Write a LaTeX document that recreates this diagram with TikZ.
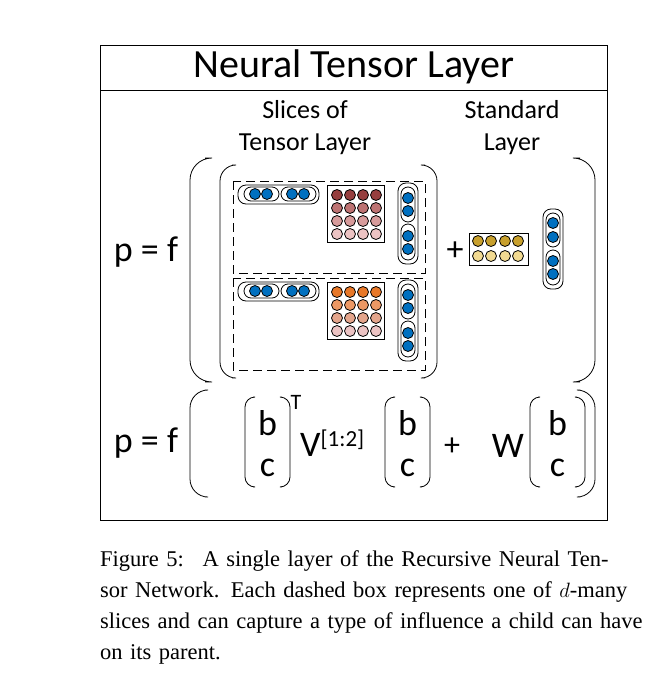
\documentclass[tikz,border=0pt]{standalone}
\usepackage{fontspec}
\setmainfont{Carlito}
\newfontfamily\capfont{Liberation Serif}
\definecolor{ntblue}{RGB}{0,112,192}
\definecolor{redA}{RGB}{150,62,62}
\definecolor{redB}{RGB}{190,115,115}
\definecolor{redC}{RGB}{215,155,155}
\definecolor{redD}{RGB}{236,195,195}
\definecolor{orA}{RGB}{232,120,40}
\definecolor{orB}{RGB}{236,152,100}
\definecolor{orC}{RGB}{228,165,140}
\definecolor{yelA}{RGB}{200,160,45}
\definecolor{yelB}{RGB}{242,218,145}
\tikzset{
  dot/.style={circle, draw=black, thick, inner sep=0pt, minimum size=#1},
  dot/.default=11pt,
  capsule/.style={draw=black, thick, rounded corners=8pt},
  slice/.style={draw=black, thick, dash pattern=on 9pt off 5pt},
  paren/.style={draw=black, thick, rounded corners=12pt},
  big/.style={font=\fontsize{36}{38}\selectfont},
}
\begin{document}
\begin{tikzpicture}[x=1pt, y=-1pt]
  \useasboundingbox (0,0) rectangle (669,688);

  % Frame and title
  \draw[thick] (100,45) rectangle (607,520);
  \draw[thick] (100,90) -- (607,90);
  \node[font=\fontsize{40}{42}\selectfont] (title) at (354,67) {Neural Tensor Layer};
  \node[font=\fontsize{26}{32}\selectfont, align=center] (slicelbl) at (305,128) {Slices of\\Tensor Layer};
  \node[font=\fontsize{26}{32}\selectfont, align=center] (stdlbl) at (512,128) {Standard\\Layer};

  % Left hand sides
  \node[big] (pf1) at (146,252) {p = f};
  \node[big] (pf2) at (146,443) {p = f};

  % Big parentheses, upper row
  \draw[paren, rounded corners=22pt] (205,158) -- (190,158) -- (190,382) -- (205,382);
  \draw[paren, rounded corners=22pt] (580,158) -- (595,158) -- (595,382) -- (580,382);
  \draw[paren, rounded corners=16pt] (232,165) -- (220,165) -- (220,378) -- (232,378);
  \draw[paren, rounded corners=16pt] (425,165) -- (437,165) -- (437,378) -- (425,378);

  % Two tensor slices
  \foreach \s/\dy/\ca/\cb/\cc/\cd in {1/0/redA/redB/redC/redD, 2/97/orA/orB/orC/redD} {
    \begin{scope}[yshift=-\dy pt]
      \draw[slice] (233,181) rectangle (425,273);
      % stacked children (row vector)
      \draw[capsule] (238,185) rectangle (319,204);
      \draw[capsule, rounded corners=7pt] (244,187) rectangle (279,201);
      \draw[capsule, rounded corners=7pt] (281,187) rectangle (316,201);
      \foreach \x [count=\i] in {255,267,292,304}
        \node[dot, fill=ntblue] (row\s\i) at (\x,194) {};
      % slice matrix
      \draw[thick, fill=white] (327,185) rectangle (384,242);
      \foreach \y/\c [count=\j] in {195/\ca,208/\cb,221/\cc,234/\cd}
        \foreach \x [count=\i] in {337,350,363,376}
          \node[dot=11pt, fill=\c] (m\s\j\i) at (\x,\y) {};
      % column vector
      \draw[capsule] (398,183) rectangle (418,264);
      \draw[capsule, rounded corners=7pt] (401,187) rectangle (415,222);
      \draw[capsule, rounded corners=7pt] (401,224) rectangle (415,260);
      \foreach \y [count=\i] in {198,211,236,249}
        \node[dot, fill=ntblue] (col\s\i) at (408,\y) {};
    \end{scope}
  }

  % Standard layer
  \node[font=\fontsize{34}{36}\selectfont] (plusA) at (455,251) {+};
  \draw[thick] (469,233) rectangle (528,265);
  \foreach \y/\c [count=\j] in {241/yelA,256/yelB}
    \foreach \x [count=\i] in {478,491,505,518}
      \node[dot, fill=\c] (w\j\i) at (\x,\y) {};
  \draw[capsule] (543,209) rectangle (563,289);
  \draw[capsule, rounded corners=7pt] (546,213) rectangle (560,247);
  \draw[capsule, rounded corners=7pt] (546,250) rectangle (560,285);
  \foreach \y [count=\i] in {223,237,261,274}
    \node[dot, fill=ntblue] (std\i) at (553,\y) {};

  % Formula row
  \draw[paren, rounded corners=18pt] (205,390) -- (190,390) -- (190,497) -- (205,497);
  \draw[paren, rounded corners=18pt] (580,390) -- (595,390) -- (595,497) -- (580,497);
  \foreach \xl/\xr/\n in {245/290/1, 385/430/2, 530/585/3} {
    \draw[paren, rounded corners=10pt] (\xl+8,397) -- (\xl,397) -- (\xl,487) -- (\xl+8,487);
    \draw[paren, rounded corners=10pt] (\xr-8,397) -- (\xr,397) -- (\xr,487) -- (\xr-8,487);
    \node[big] (b\n) at ({(\xl+\xr)/2},423) {b};
    \node[big] (c\n) at ({(\xl+\xr)/2},468) {c};
  }
  \node[font=\fontsize{22}{24}\selectfont] (tT) at (296,402) {T};
  \node[big, anchor=west, inner sep=0pt] (V) at (300,443) {V\raisebox{10pt}{\fontsize{23}{25}\selectfont[1:2]}};
  \node[font=\fontsize{32}{34}\selectfont] (plusB) at (452,447) {+};
  \node[big] (W) at (508,446) {W};

  % Caption
  \node[anchor=north west, inner sep=0pt, text width=546pt, align=left,
        font=\capfont\fontsize{22.5}{31}\selectfont] (caption) at (100,550)
    {\makebox[546pt][s]{Figure 5: \ A single layer of the Recursive Neural Ten-}\\
     \makebox[546pt][s]{sor Network. Each dashed box represents one of $d$-many}\\
     \makebox[546pt][s]{slices and can capture a type of influence a child can have}\\
     on its parent.};
\end{tikzpicture}
\end{document}
